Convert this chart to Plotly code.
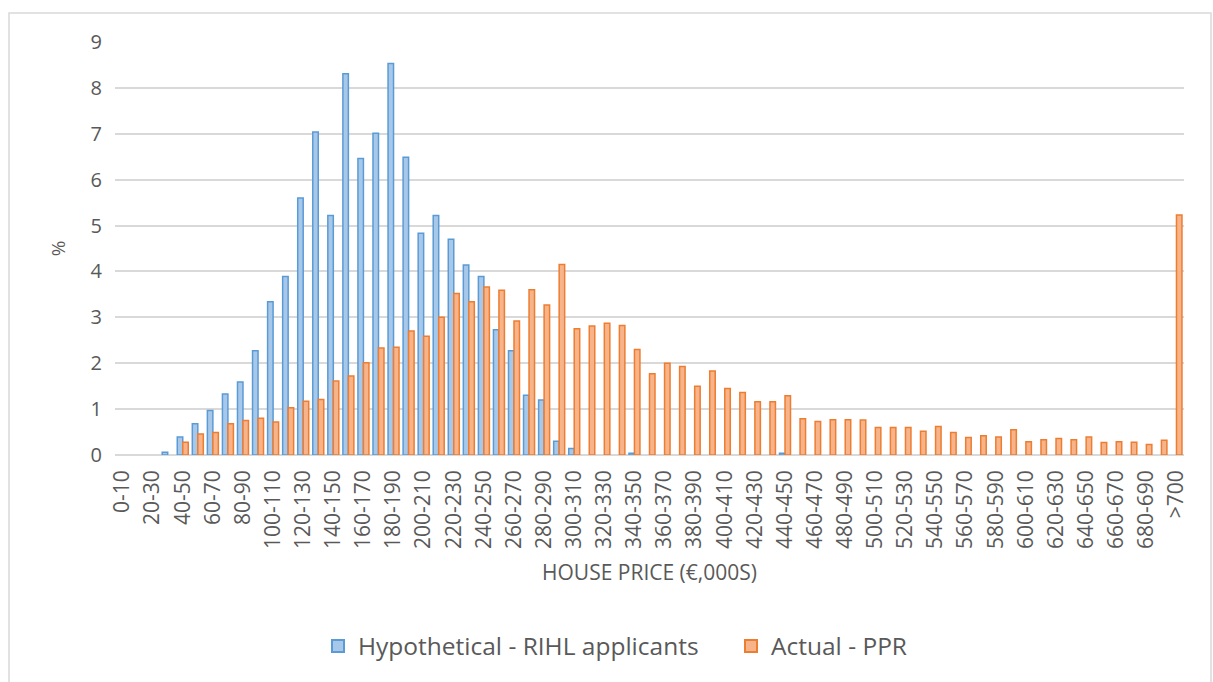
import plotly.graph_objects as go

categories = [f"{i*10}-{i*10+10}" for i in range(70)] + [">700"]

hypothetical = [0, 0, 0, 0.06, 0.39, 0.68, 0.97, 1.33, 1.59, 2.27,
                3.34, 3.89, 5.60, 7.04, 5.22, 8.31, 6.46, 7.01, 8.53, 6.49,
                4.83, 5.22, 4.70, 4.14, 3.89, 2.73, 2.27, 1.30, 1.20, 0.30,
                0.14, 0, 0, 0, 0.04, 0, 0, 0, 0, 0,
                0, 0, 0, 0, 0.04, 0, 0, 0, 0, 0,
                0, 0, 0, 0, 0, 0, 0, 0, 0, 0,
                0, 0, 0, 0, 0, 0, 0, 0, 0, 0,
                0]

actual = [0, 0, 0, 0, 0.28, 0.46, 0.49, 0.68, 0.75, 0.80,
          0.72, 1.03, 1.17, 1.21, 1.61, 1.72, 2.01, 2.33, 2.35, 2.70,
          2.59, 3.00, 3.52, 3.34, 3.66, 3.59, 2.92, 3.60, 3.27, 4.15,
          2.75, 2.81, 2.87, 2.82, 2.30, 1.77, 2.00, 1.93, 1.50, 1.83,
          1.45, 1.36, 1.16, 1.16, 1.29, 0.79, 0.73, 0.77, 0.77, 0.76,
          0.60, 0.60, 0.60, 0.52, 0.62, 0.49, 0.38, 0.42, 0.39, 0.55,
          0.29, 0.33, 0.36, 0.33, 0.39, 0.27, 0.29, 0.28, 0.23, 0.32,
          5.23]

y_ticks = list(range(0, 10))

FONT = "Open Sans"
GREY = "#595959"
GRID = "#D9D9D9"

def hide_zero(vals):
    return [v if v else None for v in vals]

fig = go.Figure()
fig.add_trace(go.Bar(
    x=categories, y=hide_zero(hypothetical), name="Hypothetical - RIHL applicants",
    marker=dict(color="#A8C8EA", line=dict(color="#5B9BD5", width=1.5)),
))
fig.add_trace(go.Bar(
    x=categories, y=hide_zero(actual), name="Actual - PPR",
    marker=dict(color="#F7B48A", line=dict(color="#ED7D31", width=1.5)),
))

# plot area in pixels
L, R, T, B = 115, 29, 42, 227
W, H = 1213, 682
pw, ph = W - L - R, H - T - B

def px_x(px):
    return (px - L) / pw

def px_y(py):
    return (H - B - py) / ph

fig.update_layout(
    width=W, height=H,
    margin=dict(l=L, r=R, t=T, b=B),
    paper_bgcolor="white", plot_bgcolor="white",
    barmode="group", bargap=0.27, bargroupgap=0,
    font=dict(family=FONT, color=GREY),
    showlegend=True,
    legend=dict(orientation="h", x=px_x(318), xanchor="left",
                y=px_y(646), yanchor="middle",
                font=dict(size=24.5, color=GREY, family=FONT),
                entrywidth=368, entrywidthmode="pixels",
                itemsizing="constant"),
    xaxis=dict(
        type="category",
        tickmode="array", tickvals=categories[::2], ticktext=categories[::2],
        tickangle=-90, tickfont=dict(size=21, color=GREY, family=FONT),
        showgrid=False, showline=False, ticks="",
        ticklabelstandoff=10,
        title=dict(text="HOUSE PRICE (€,000S)", font=dict(size=21, color=GREY, family=FONT),
                   standoff=17),
    ),
    yaxis=dict(
        range=[0, 9], tickmode="array", tickvals=y_ticks,
        tickfont=dict(size=20, color=GREY, family=FONT),
        showgrid=True, gridcolor=GRID, gridwidth=1.5,
        zeroline=True, zerolinecolor=GRID, zerolinewidth=1.5,
        showline=False, ticks="", ticklabelstandoff=12,
        title=dict(text="%", font=dict(size=19, color=GREY, family=FONT), standoff=19),
    ),
    shapes=[dict(type="rect", xref="paper", yref="paper",
                 x0=px_x(9), x1=px_x(1211), y0=px_y(690), y1=px_y(13),
                 line=dict(color=GRID, width=1.5), fillcolor="rgba(0,0,0,0)",
                 layer="below")],
)

fig.write_html("out.html", config={"displayModeBar": False},
               post_script="document.body.style.margin='0';")
